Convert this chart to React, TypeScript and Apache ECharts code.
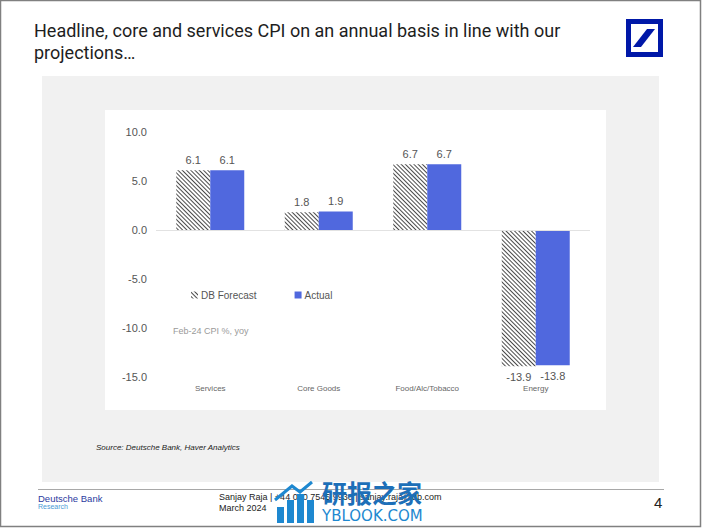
import React, { useEffect, useRef } from "react";
import * as echarts from "echarts";

const categories = ["Services", "Core Goods", "Food/Alc/Tobacco", "Energy"];
const dbForecast = [6.1, 1.8, 6.7, -13.9];
const actual = [6.1, 1.9, 6.7, -13.8];
const seriesNames = ["DB Forecast", "Actual"];
const yMin = -15;
const yMax = 10;
const yStep = 5;

const titleLines = [
  "Headline, core and services CPI on an annual basis in line with our",
  "projections\u2026",
];
const chartNote = "Feb-24 CPI %, yoy";
const sourceText = "Source: Deutsche Bank, Haver Analytics";
const footerBank = "Deutsche Bank";
const footerResearch = "Research";
const footerAuthor = "Sanjay Raja | +44 020 7545 9930 | sanjay.raja@db.com";
const footerDate = "March 2024";
const pageNumber = "4";

const BLUE = "#5068DE";
const FONT = "'Liberation Sans', Arial, Helvetica, sans-serif";

function toItems(values: number[]) {
  return values.map((v) => ({
    value: v,
    label: { position: v < 0 ? "bottom" : "top" },
  }));
}

export default function App() {
  const ref = useRef<HTMLDivElement | null>(null);

  useEffect(() => {
    document.body.style.margin = "0";
    const chart = echarts.init(ref.current!, undefined, { renderer: "svg" });
    const hatch = {
      symbol: "rect",
      symbolSize: 1,
      color: "#4a4a4a",
      dashArrayX: [1, 0],
      dashArrayY: [1, 1.3],
      rotation: Math.PI / 4,
    };
    const option: any = {
      animation: false,
      textStyle: { fontFamily: FONT },
      graphic: [
        {
          type: "rect",
          z: -10,
          shape: { x: 0.5, y: 0.5, width: 700, height: 526 },
          style: { fill: "#ffffff", stroke: "#808080", lineWidth: 1.5 },
        },
        {
          type: "rect",
          z: -9,
          shape: { x: 42, y: 76, width: 617, height: 406 },
          style: { fill: "#f1f1f1" },
        },
        {
          type: "rect",
          z: -8,
          shape: { x: 105, y: 110, width: 501, height: 300 },
          style: { fill: "#ffffff" },
        },
        {
          type: "text",
          x: 34,
          y: 19,
          style: {
            text: titleLines.join("\n"),
            fill: "#1e1e1e",
            font: "18px Roboto, 'Noto Sans', sans-serif",
            lineHeight: 22,
          },
        },
        {
          type: "rect",
          shape: { x: 626, y: 19, width: 37, height: 38 },
          style: { fill: "#0018A8" },
        },
        {
          type: "rect",
          shape: { x: 631, y: 24, width: 27, height: 28 },
          style: { fill: "#ffffff" },
        },
        {
          type: "polygon",
          shape: {
            points: [
              [647, 29],
              [655, 29],
              [641, 47],
              [633, 47],
            ],
          },
          style: { fill: "#0018A8" },
        },
        {
          type: "text",
          x: 173,
          y: 326,
          style: { text: chartNote, fill: "#9a9a9a", font: `9px ${FONT}` },
        },
        {
          type: "text",
          x: 96,
          y: 443,
          style: {
            text: sourceText,
            fill: "#222",
            font: `italic 8px ${FONT}`,
          },
        },
        {
          type: "line",
          shape: { x1: 38, y1: 489.5, x2: 664, y2: 489.5 },
          style: { stroke: "#a8a8a8", lineWidth: 1 },
        },
        {
          type: "text",
          x: 38,
          y: 493,
          style: { text: footerBank, fill: "#2b3aa0", font: `9.5px ${FONT}` },
        },
        {
          type: "text",
          x: 38,
          y: 503,
          style: { text: footerResearch, fill: "#4a9ad6", font: `7px ${FONT}` },
        },
        {
          type: "text",
          x: 219,
          y: 492,
          style: { text: footerAuthor, fill: "#222", font: `9px ${FONT}` },
        },
        {
          type: "text",
          x: 219,
          y: 503,
          style: { text: footerDate, fill: "#222", font: `9px ${FONT}` },
        },
        {
          type: "text",
          x: 654,
          y: 495,
          style: { text: pageNumber, fill: "#222", font: `15px ${FONT}` },
        },
        {
          type: "text",
          x: 322,
          y: 479,
          z: 20,
          style: {
            text: "研报之家",
            fill: "#1d6fb8",
            font: "bold 25px 'Noto Sans CJK SC', sans-serif",
          },
        },
        {
          type: "text",
          x: 322,
          y: 508,
          z: 20,
          style: {
            text: "YBLOOK.COM",
            fill: "#1e88d0",
            font: "15px 'DejaVu Sans', sans-serif",
          },
        },
        {
          type: "group",
          z: 20,
          children: [
            { type: "rect", shape: { x: 277, y: 507, width: 7, height: 16 }, style: { fill: "#1e88d0" } },
            { type: "rect", shape: { x: 287, y: 500, width: 7, height: 23 }, style: { fill: "#1e88d0" } },
            { type: "rect", shape: { x: 297, y: 494, width: 7, height: 29 }, style: { fill: "#1e88d0" } },
            { type: "rect", shape: { x: 307, y: 500, width: 7, height: 23 }, style: { fill: "#1e88d0" } },
            {
              type: "polyline",
              shape: { points: [[275, 500], [292, 486], [300, 492], [312, 482]] },
              style: { stroke: "#1e88d0", lineWidth: 3, fill: "none" },
            },
          ],
        },
      ],
      legend: {
        left: 186,
        top: 285,
        itemWidth: 7,
        itemHeight: 7,
        itemGap: 38,
        icon: "rect",
        textStyle: { color: "#555", fontSize: 10, padding: [0, 0, 0, -2] },
        data: seriesNames,
      },
      grid: { left: 156, right: 112, top: 132, bottom: 151 },
      xAxis: {
        type: "category",
        data: categories,
        position: "bottom",
        axisLine: { show: false, onZero: false },
        axisTick: { show: false },
        axisLabel: { color: "#666", fontSize: 8, margin: 7 },
      },
      yAxis: {
        type: "value",
        min: yMin,
        max: yMax,
        interval: yStep,
        splitLine: { show: false },
        axisLine: { show: false },
        axisTick: { show: false },
        axisLabel: {
          color: "#555",
          fontSize: 11,
          margin: 9,
          formatter: (v: number) => v.toFixed(1),
        },
      },
      series: [
        {
          name: seriesNames[0],
          type: "bar",
          data: toItems(dbForecast),
          barWidth: 34,
          barGap: "0%",
          itemStyle: { color: "#ffffff", decal: hatch },
          label: {
            show: true,
            color: "#555",
            fontSize: 11,
            distance: 5,
            formatter: (p: any) => Number(p.value).toFixed(1),
          },
          markLine: {
            silent: true,
            symbol: "none",
            label: { show: false },
            lineStyle: { color: "#e2e2e2", width: 1, type: "solid" },
            data: [{ yAxis: 0 }],
          },
        },
        {
          name: seriesNames[1],
          type: "bar",
          data: toItems(actual),
          barWidth: 34,
          itemStyle: { color: BLUE },
          label: {
            show: true,
            color: "#555",
            fontSize: 11,
            distance: 5,
            formatter: (p: any) => Number(p.value).toFixed(1),
          },
        },
      ],
    };
    chart.setOption(option);
    return () => chart.dispose();
  }, []);

  return (
    <div
      ref={ref}
      style={{ position: "absolute", left: 0, top: 0, width: 702, height: 528 }}
    />
  );
}
